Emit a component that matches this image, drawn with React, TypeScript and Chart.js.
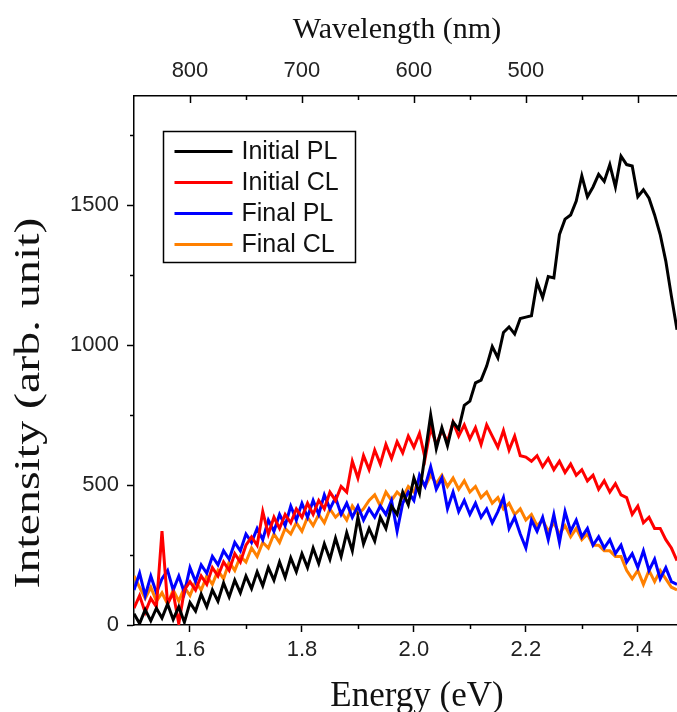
import React, { useEffect, useRef } from "react";
import { Chart, registerables } from "chart.js";

Chart.register(...registerables);

// ---------------- data ----------------
const ENERGY = [
  1.5, 1.51, 1.52, 1.53, 1.54, 1.55, 1.56, 1.57, 1.58, 1.59,
  1.6, 1.61, 1.62, 1.63, 1.64, 1.65, 1.66, 1.67, 1.68, 1.69,
  1.7, 1.71, 1.72, 1.73, 1.74, 1.75, 1.76, 1.77, 1.78, 1.79,
  1.8, 1.81, 1.82, 1.83, 1.84, 1.85, 1.86, 1.87, 1.88, 1.89,
  1.9, 1.91, 1.92, 1.93, 1.94, 1.95, 1.96, 1.97, 1.98, 1.99,
  2.0, 2.01, 2.02, 2.03, 2.04, 2.05, 2.06, 2.07, 2.08, 2.09,
  2.1, 2.11, 2.12, 2.13, 2.14, 2.15, 2.16, 2.17, 2.18, 2.19,
  2.2, 2.21, 2.22, 2.23, 2.24, 2.25, 2.26, 2.27, 2.28, 2.29,
  2.3, 2.31, 2.32, 2.33, 2.34, 2.35, 2.36, 2.37, 2.38, 2.39,
  2.4, 2.41, 2.42, 2.43, 2.44, 2.45, 2.46, 2.47,
];

const INITIAL_PL = [
  40, 5, 55, 15, 60, 25, 75, 20, 65, 10,
  80, 50, 110, 65, 125, 85, 150, 100, 160, 115,
  175, 130, 190, 140, 205, 160, 225, 170, 240, 190,
  255, 205, 275, 220, 290, 235, 310, 245, 330, 265,
  385, 290, 345, 300, 385, 345, 425, 395, 475, 430,
  525, 470, 610, 750, 630, 705, 640, 725, 700, 785,
  800, 865, 875, 925, 995, 955, 1045, 1065, 1040, 1095,
  1100, 1105, 1225, 1170, 1245, 1240, 1395, 1450, 1465, 1515,
  1605, 1530, 1565, 1610, 1585, 1645, 1565, 1675, 1645, 1640,
  1530, 1555, 1525, 1465, 1395, 1300, 1175, 1055,
];

const INITIAL_CL = [
  60, 105, 45, 95, 65, 335, 75, 115, 5, 125,
  155, 125, 175, 145, 205, 175, 225, 195, 255, 225,
  285, 315, 285, 405, 325, 385, 345, 395, 365, 415,
  385, 435, 395, 445, 415, 475, 445, 495, 475, 585,
  525, 605, 555, 625, 575, 645, 595, 655, 615, 675,
  635, 685, 595, 705, 645, 695, 655, 725, 675, 715,
  665, 705, 645, 715, 675, 635, 695, 625, 675, 605,
  600, 585, 605, 565, 595, 555, 585, 545, 575, 535,
  555, 515, 535, 485, 515, 475, 505, 465, 455, 395,
  425, 365, 385, 345, 345, 305, 275, 230,
];

const FINAL_PL = [
  125, 185, 105, 175, 115, 165, 195, 125, 175, 115,
  205, 155, 215, 185, 245, 215, 265, 235, 295, 265,
  325, 295, 345, 305, 375, 335, 395, 355, 425, 375,
  435, 385, 445, 395, 465, 415, 455, 395, 435, 385,
  425, 375, 415, 385, 425, 395, 445, 335, 435, 475,
  445, 535, 495, 565, 485, 525, 415, 475, 405, 445,
  395, 435, 385, 415, 365, 405, 455, 345, 385, 325,
  275, 375, 335, 385, 305, 395, 295, 405, 335, 375,
  315, 345, 285, 315, 275, 305, 255, 285, 225, 255,
  205, 265, 195, 235, 165, 205, 155, 145,
];

const FINAL_CL = [
  175, 135, 95, 135, 85, 115, 75, 125, 85, 135,
  105, 155, 125, 175, 145, 195, 165, 225, 195, 245,
  225, 275, 245, 295, 275, 325, 295, 345, 325, 365,
  335, 385, 355, 395, 365, 415, 385, 405, 375, 425,
  395, 415, 445, 465, 425, 475, 445, 475, 455, 495,
  475, 525, 495, 535, 505, 535, 495, 525, 485, 515,
  475, 495, 455, 475, 435, 455, 415, 435, 395, 415,
  375, 395, 355, 375, 335, 365, 325, 355, 315, 345,
  305, 325, 285, 285, 265, 265, 245, 245, 195, 165,
  195, 145, 195, 155, 195, 165, 135, 125,
];

const SERIES_NAMES = ["Initial PL", "Initial CL", "Final PL", "Final CL"];
const SERIES_VALUES = [INITIAL_PL, INITIAL_CL, FINAL_PL, FINAL_CL];
const SERIES_COLORS = ["#000000", "#ff0000", "#0000ff", "#ff8000"];

const ENERGY_TICKS = [1.6, 1.8, 2.0, 2.2, 2.4];
const ENERGY_MINOR = [1.7, 1.9, 2.1, 2.3];
const INTENSITY_TICKS = [0, 500, 1000, 1500];
const INTENSITY_MINOR = [250, 750, 1250, 1750];
const WAVELENGTH_TICKS = [800, 700, 600, 500, 400];
const WAVELENGTH_LABELS = ["800", "700", "600", "500", ""];
const WAVELENGTH_MINOR = [750, 650, 550, 450];

const X_TITLE = "Energy (eV)";
const X2_TITLE = "Wavelength (nm)";
const Y_TITLE = "Intensity (arb. unit)";

// ---------------- styling ----------------
const SANS = "'Liberation Sans', Arial, sans-serif";
const TICK_FONT = { family: SANS, size: 22 };
const SERIF = "'Liberation Serif', 'Times New Roman', serif";

const decorPlugin = {
  id: "decor",
  afterDraw(chart: any) {
    const { ctx, chartArea, scales } = chart;
    const { left, top, bottom } = chartArea;
    ctx.save();
    ctx.strokeStyle = "#000";
    ctx.lineWidth = 1.5;
    const seg = (x1: number, y1: number, x2: number, y2: number) => {
      ctx.beginPath();
      ctx.moveTo(x1, y1);
      ctx.lineTo(x2, y2);
      ctx.stroke();
    };
    ENERGY_MINOR.forEach((v) => {
      const px = Math.round(scales.x.getPixelForValue(v)) + 0.5;
      seg(px, bottom, px, bottom + 4);
    });
    INTENSITY_MINOR.forEach((v) => {
      const py = Math.round(scales.y.getPixelForValue(v)) + 0.5;
      seg(left - 4, py, left, py);
    });
    WAVELENGTH_TICKS.forEach((v) => {
      const px = Math.round(scales.x2.getPixelForValue(v)) + 0.5;
      seg(px, top, px, top + 7);
    });
    WAVELENGTH_MINOR.forEach((v) => {
      const px = Math.round(scales.x2.getPixelForValue(v)) + 0.5;
      seg(px, top, px, top + 4);
    });

    // axis titles
    ctx.fillStyle = "#111";
    ctx.textAlign = "center";
    ctx.textBaseline = "middle";
    ctx.font = `30px ${SERIF}`;
    ctx.fillText(X2_TITLE, left + 263, 30);
    ctx.font = `35px ${SERIF}`;
    ctx.fillText(X_TITLE, left + 283, bottom + 72);
    ctx.save();
    ctx.translate(30, top + 307);
    ctx.rotate(-Math.PI / 2);
    ctx.scale(1.33, 1);
    ctx.font = `36px ${SERIF}`;
    ctx.fillText(Y_TITLE, 0, 0);
    ctx.restore();

    // legend box
    const bx = left + 29.5;
    const by = top + 35.5;
    const bw = 192;
    const bh = 131;
    ctx.lineWidth = 1.5;
    ctx.strokeStyle = "#000";
    ctx.strokeRect(bx, by, bw, bh);
    ctx.font = `25px ${SANS}`;
    ctx.textAlign = "left";
    SERIES_NAMES.forEach((name, i) => {
      const yy = by + 20 + i * 31;
      ctx.strokeStyle = SERIES_COLORS[i];
      ctx.lineWidth = 3;
      seg(bx + 11, yy, bx + 69, yy);
      ctx.fillStyle = "#111";
      ctx.fillText(name, bx + 78, yy + 1);
    });
    ctx.restore();
  },
};

export default function App() {
  const canvasRef = useRef<HTMLCanvasElement | null>(null);

  useEffect(() => {
    const canvas = canvasRef.current;
    if (!canvas) return;
    const chart = new Chart(canvas, {
      type: "line",
      data: {
        datasets: SERIES_NAMES.map((name, i) => ({
          label: name,
          data: ENERGY.map((e, j) => ({ x: e, y: SERIES_VALUES[i][j] })),
          borderColor: SERIES_COLORS[i],
          backgroundColor: SERIES_COLORS[i],
          borderWidth: 3,
          pointRadius: 0,
          tension: 0,
          fill: false,
        })),
      },
      options: {
        responsive: false,
        animation: false,
        events: [],
        layout: { padding: 0 },
        plugins: {
          legend: { display: false },
          tooltip: { enabled: false },
        },
        scales: {
          x: {
            type: "linear",
            position: "bottom",
            min: 1.5,
            max: 2.47,
            afterFit: (s: any) => {
              s.height = 87;
            },
            afterBuildTicks: (s: any) => {
              s.ticks = ENERGY_TICKS.map((v) => ({ value: v }));
            },
            ticks: {
              callback: (v: any) => Number(v).toFixed(1),
              font: TICK_FONT,
              color: "#222",
              padding: 5,
              maxRotation: 0,
              autoSkip: false,
            },
            grid: {
              drawOnChartArea: false,
              drawTicks: true,
              tickLength: 7,
              tickColor: "#000",
              tickWidth: 1.5,
            },
            border: { display: true, color: "#000", width: 1.5 },
          },
          x2: {
            type: "linear",
            position: "top",
            reverse: true,
            min: 365,
            max: 850,
            afterFit: (s: any) => {
              s.height = 96;
            },
            afterBuildTicks: (s: any) => {
              s.ticks = WAVELENGTH_TICKS.map((v) => ({ value: v }));
            },
            ticks: {
              callback: (_v: any, idx: number) => WAVELENGTH_LABELS[idx],
              font: TICK_FONT,
              color: "#222",
              padding: 12,
              maxRotation: 0,
              autoSkip: false,
            },
            grid: {
              drawOnChartArea: false,
              drawTicks: false,
            },
            border: { display: true, color: "#000", width: 1.5 },
          },
          y: {
            type: "linear",
            min: 0,
            max: 1890,
            afterFit: (s: any) => {
              s.width = 134;
            },
            afterBuildTicks: (s: any) => {
              s.ticks = INTENSITY_TICKS.map((v) => ({ value: v }));
            },
            ticks: {
              callback: (v: any) => String(v),
              font: TICK_FONT,
              color: "#222",
              padding: 8,
              autoSkip: false,
            },
            grid: {
              drawOnChartArea: false,
              drawTicks: true,
              tickLength: 7,
              tickColor: "#000",
              tickWidth: 1.5,
            },
            border: { display: true, color: "#000", width: 1.5 },
          },
        },
      },
      plugins: [decorPlugin],
    });
    return () => chart.destroy();
  }, []);

  return (
    <div style={{ position: "fixed", left: 0, top: 0, width: 677, height: 712, background: "#fff" }}>
      <canvas ref={canvasRef} width={677} height={712} style={{ display: "block" }} />
    </div>
  );
}
